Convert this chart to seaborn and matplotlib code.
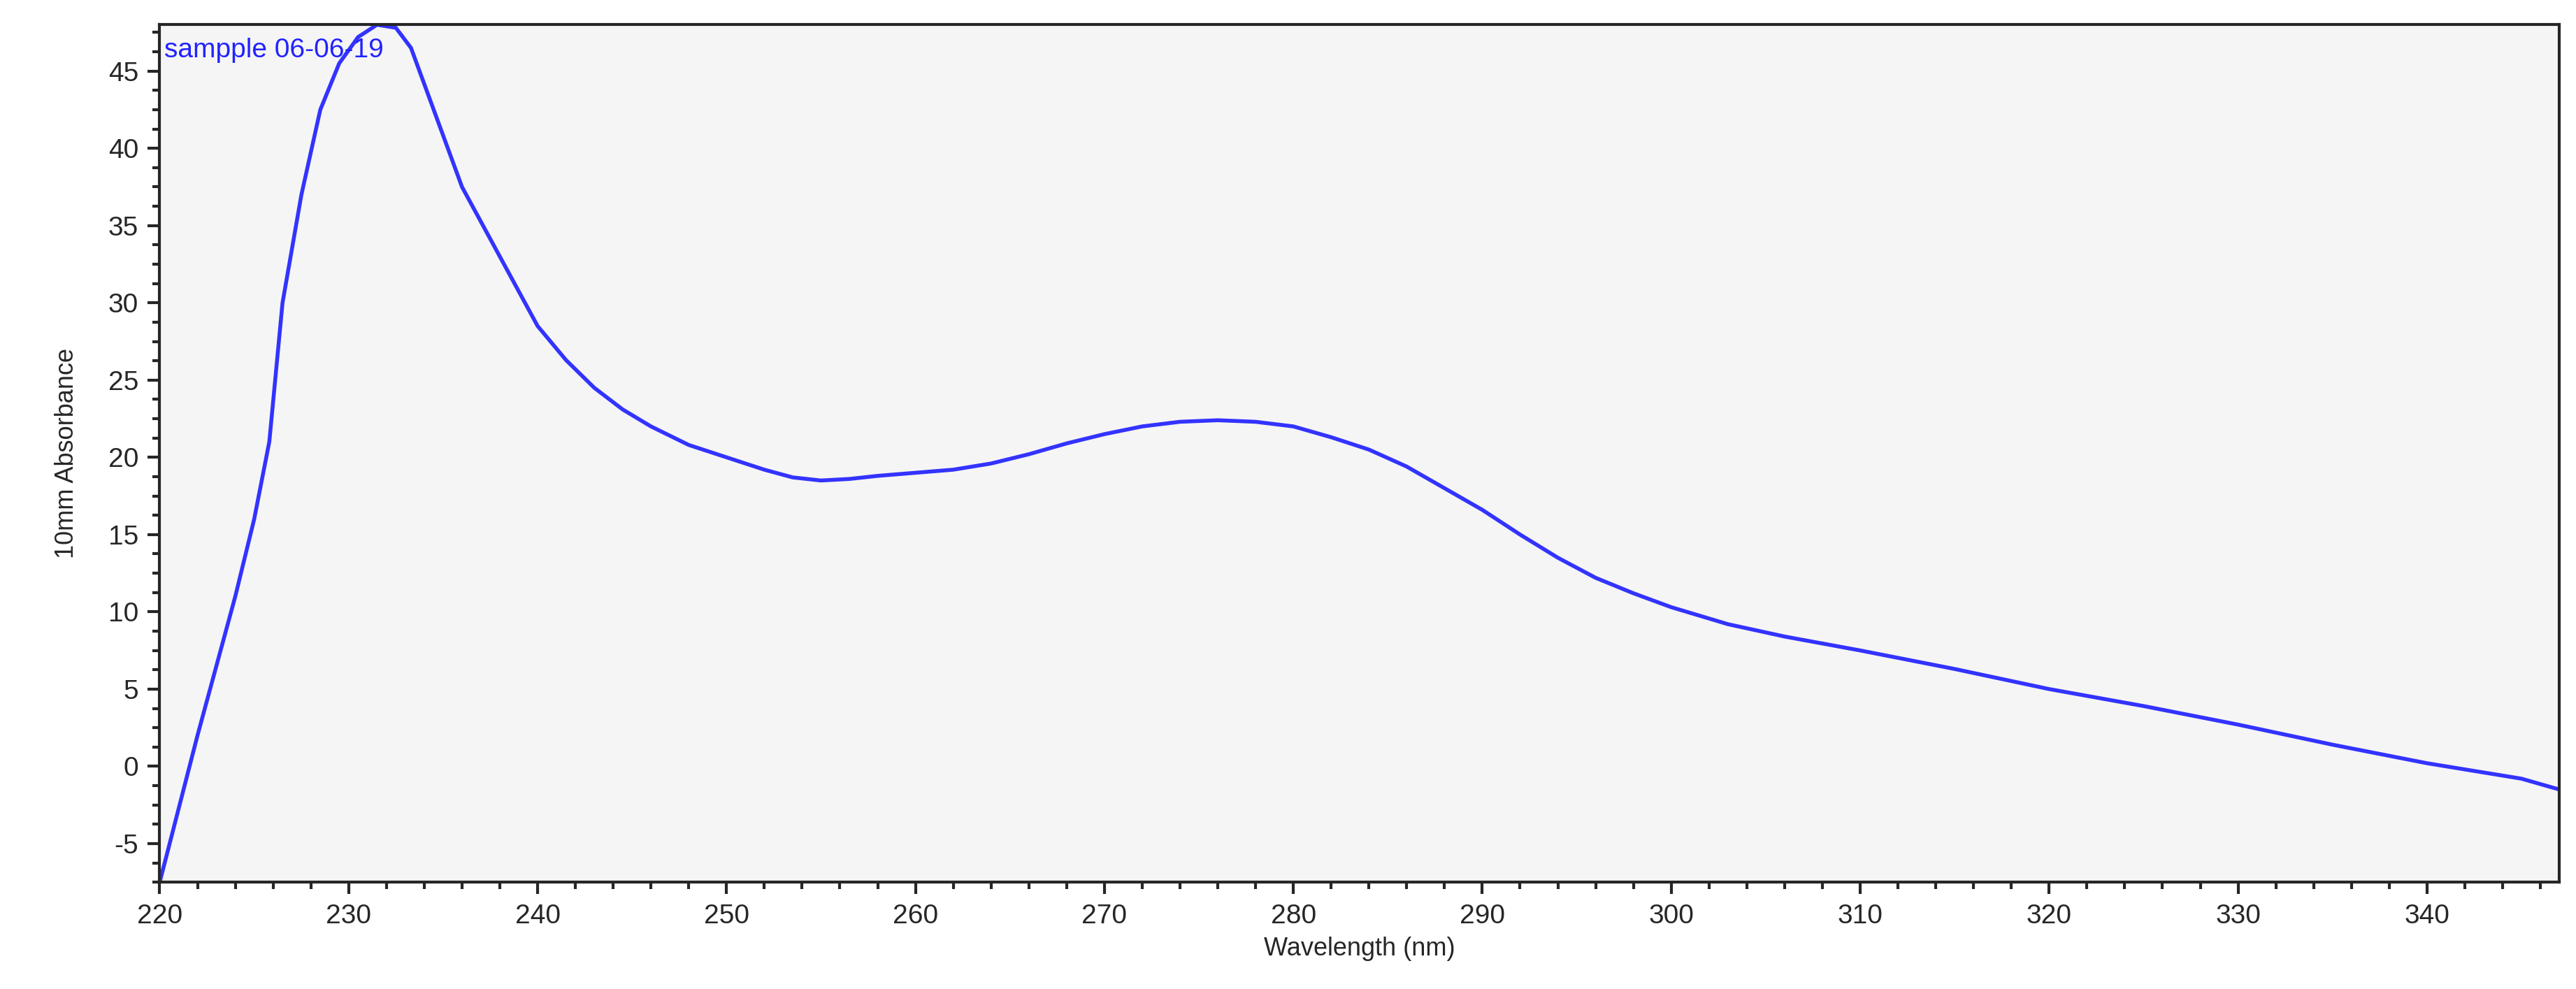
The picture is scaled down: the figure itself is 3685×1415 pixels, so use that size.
import matplotlib
matplotlib.use("Agg")
import matplotlib.pyplot as plt
import seaborn as sns
import pandas as pd
from matplotlib.ticker import MultipleLocator

wavelength = [220, 222, 224, 225, 225.8, 226.5, 227.5, 228.5, 229.5, 230.5, 231.5, 232.5, 233.3,
              234.5, 236, 238, 240, 241.5, 243, 244.5, 246, 248, 250, 252, 253.5, 255, 256.5,
              258, 260, 262, 264, 266, 268, 270, 272, 274, 276, 278, 280, 282, 284, 286, 288,
              290, 292, 294, 296, 298, 300, 303, 306, 310, 315, 320, 325, 330, 335, 340, 345, 347]
absorbance = [-7.5, 2, 11, 16, 21, 30, 37, 42.5, 45.5, 47.2, 48, 47.8, 46.5,
              42.5, 37.5, 33, 28.5, 26.3, 24.5, 23.1, 22, 20.8, 20, 19.2, 18.7, 18.5, 18.6,
              18.8, 19, 19.2, 19.6, 20.2, 20.9, 21.5, 22, 22.3, 22.4, 22.3, 22, 21.3, 20.5, 19.4, 18,
              16.6, 15, 13.5, 12.2, 11.2, 10.3, 9.2, 8.4, 7.5, 6.3, 5, 3.9, 2.7, 1.4, 0.2, -0.8, -1.5]
sample_name = "sampple 06-06-19"

df = pd.DataFrame({"wl": wavelength, "abs": absorbance})

sns.set_style("ticks")
plt.rcParams["font.family"] = ["Liberation Sans", "DejaVu Sans"]
plt.rcParams["axes.unicode_minus"] = False

fig = plt.figure(figsize=(36.85, 14.15), dpi=100)
ax = fig.add_axes([0.062, 0.108, 0.9315, 0.867])
ax.set_facecolor("#f5f5f5")
sns.lineplot(data=df, x="wl", y="abs", ax=ax, color="#3333ff", linewidth=4)

ax.set_xlim(220, 347)
ax.set_ylim(-7.5, 48)
ax.xaxis.set_major_locator(MultipleLocator(10))
ax.xaxis.set_minor_locator(MultipleLocator(2))
ax.yaxis.set_major_locator(MultipleLocator(5))
ax.yaxis.set_minor_locator(MultipleLocator(1.25))
ax.tick_params(which="major", length=12, width=3, labelsize=28, pad=10)
ax.tick_params(which="minor", length=7, width=3)
for s in ax.spines.values():
    s.set_linewidth(3)
ax.set_xlabel("Wavelength (nm)", fontsize=26, labelpad=8)
ax.set_ylabel("10mm Absorbance", fontsize=26, labelpad=30)
ax.text(0.002, 0.985, sample_name, transform=ax.transAxes, color="#2222ff",
        fontsize=28, ha="left", va="top")

fig.savefig("out.png", dpi=100)
